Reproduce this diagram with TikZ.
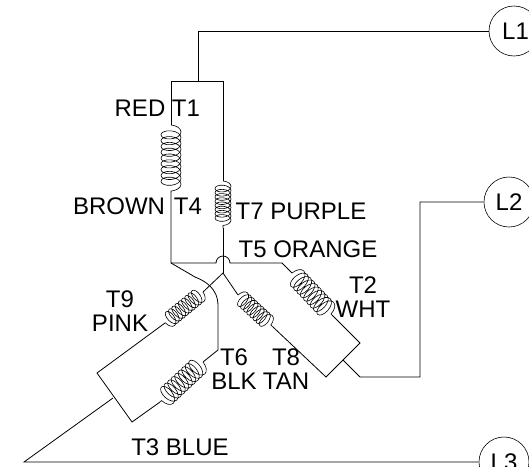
\documentclass[tikz,border=0pt]{standalone}
\usepackage{fontspec}
\setmainfont{Liberation Sans}
\usetikzlibrary{decorations.pathmorphing}

\tikzset{
    wire/.style={line width=0.8pt},
    bigcoil/.style={line width=0.6pt,decorate,decoration={coil,amplitude=10pt,segment length=4.8pt,aspect=0.55}},
    smallcoil/.style={line width=0.6pt,decorate,decoration={coil,amplitude=8pt,segment length=4.2pt,aspect=0.55}},
    lbl/.style={inner sep=0pt,font=\fontsize{24}{24}\selectfont,align=center},
    term/.style={circle,draw,line width=0.6pt,minimum size=50pt,inner sep=0pt,font=\fontsize{24}{24}\selectfont}
}

\begin{document}
\begin{tikzpicture}[x=1pt,y=-1pt]
    \useasboundingbox (0,0) rectangle (529,466);
    \clip (0,0) rectangle (529,466);

    % line terminals
    \node[term] (L1) at (514,31) {\hspace{3pt}L1};
    \node[term] (L2) at (509,202) {L2};
    \node[term] (L3) at (504,462) {L3};

    % top pair
    \coordinate (top) at (198,81);
    \coordinate (tl) at (171,81);
    \coordinate (tr) at (223,81);
    \coordinate (t1) at (171,125);
    \coordinate (t4) at (171,192);
    \coordinate (t7a) at (223,181);
    \coordinate (t7b) at (223,228);
    \coordinate (star) at (223,273);
    \coordinate (hopl) at (216,263);
    \coordinate (jn) at (171,263);

    \draw[wire] (L1.west) -- (198,31) -- (top);
    \draw[wire] (t1) -- (tl) -- (tr) -- (t7a);
    \draw[wire] (t4) -- (jn) -- (hopl) arc[start angle=180,end angle=360,radius=7] -- (282,263) -- (292,273);
    \draw[wire] (t7b) -- (star);
    \draw[bigcoil,decoration={segment length=5.8pt}] (t1) -- (t4);
    \draw[smallcoil] (t7a) -- (t7b);

    % right pair
    \coordinate (t2a) at (292,273);
    \coordinate (t2b) at (332,315);
    \coordinate (t8a) at (238,295);
    \coordinate (t8b) at (273,327);
    \coordinate (rc1) at (360,343);
    \coordinate (rc2) at (326,377);
    \coordinate (rm) at (343,360);

    \draw[bigcoil] (t2a) -- (t2b);
    \draw[smallcoil] (t8a) -- (t8b);
    \draw[wire] (star) -- (t8a);
    \draw[wire] (t8b) -- (rc2) -- (rc1) -- (t2b);
    \draw[wire] (rm) -- (360,377) -- (420,377) -- (420,202) -- (L2.west);

    % left pair
    \coordinate (t9a) at (203,292);
    \coordinate (t9b) at (165,323);
    \coordinate (t6a) at (203,362);
    \coordinate (t6b) at (160,402);
    \coordinate (lc1) at (97,373);
    \coordinate (lc2) at (132,422);
    \coordinate (lm) at (113,398);
    \coordinate (t6j) at (218,350);
    \coordinate (far) at (24,462);

    \draw[smallcoil] (t9a) -- (t9b);
    \draw[bigcoil] (t6a) -- (t6b);
    \draw[wire] (star) -- (t9a);
    \draw[wire] (t9b) -- (lc1) -- (lc2) -- (t6b);
    \draw[wire] (t6a) -- (t6j) -- (218,306) .. controls (218,288) and (205,281) .. (195,277) -- (jn);
    \draw[wire] (lm) -- (far) -- (L3.west);

    % labels
    \node[lbl] (red) at (140,108) {RED};
    \node[lbl] (tone) at (186,108) {T1};
    \node[lbl] (brown) at (119,206) {BROWN};
    \node[lbl] (tfour) at (188,206) {T4};
    \node[lbl] (purple) at (301,211) {T7 PURPLE};
    \node[lbl] (orange) at (308,249) {T5 ORANGE};
    \node[lbl] (wht) at (363,297) {T2\\WHT};
    \node[lbl] (tan) at (286,369) {T8\\TAN};
    \node[lbl] (blk) at (234,369) {T6\\BLK};
    \node[lbl] (pink) at (120,311) {T9\\PINK};
    \node[lbl] (blue) at (180,447) {T3 BLUE};
\end{tikzpicture}
\end{document}
